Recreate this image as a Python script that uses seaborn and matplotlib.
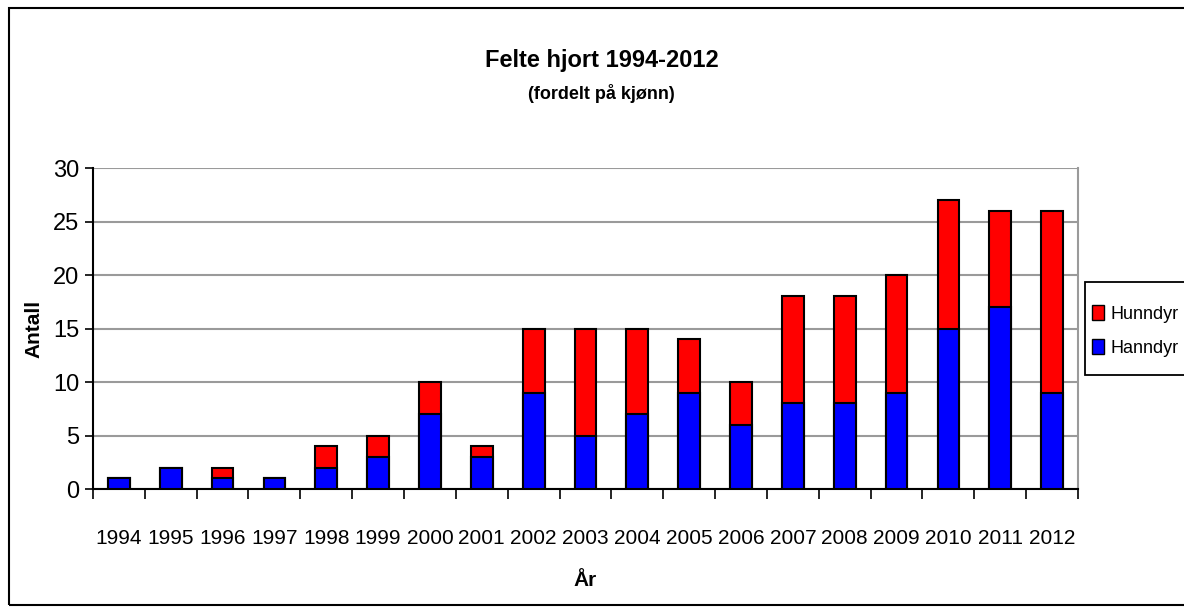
import matplotlib
matplotlib.use("Agg")
import matplotlib.pyplot as plt
import matplotlib.patches as mpatches
import seaborn as sns
import pandas as pd

years = [1994, 1995, 1996, 1997, 1998, 1999, 2000, 2001, 2002, 2003, 2004,
         2005, 2006, 2007, 2008, 2009, 2010, 2011, 2012]
hanndyr = [1, 2, 1, 1, 2, 3, 7, 3, 9, 5, 7, 9, 6, 8, 8, 9, 15, 17, 9]
hunndyr = [0, 0, 1, 0, 2, 2, 3, 1, 6, 10, 8, 5, 4, 10, 10, 11, 12, 9, 17]
y_ticks = [0, 5, 10, 15, 20, 25, 30]

sns.set_theme(style="white")
plt.rcParams['font.family'] = ['Liberation Sans', 'DejaVu Sans']
for k in ['text.color', 'axes.labelcolor', 'xtick.color', 'ytick.color']:
    plt.rcParams[k] = 'black'

df = pd.DataFrame({"year": [str(y) for y in years],
                   "Hanndyr": hanndyr,
                   "total": [a + b for a, b in zip(hanndyr, hunndyr)]})

fig = plt.figure(figsize=(11.84, 6.09), dpi=100)
ax = fig.add_axes([0.0785, 0.197, 0.8320, 0.527])

sns.barplot(data=df, x="year", y="total", color="#ff0000", edgecolor="black",
            linewidth=1.5, width=0.42, saturation=1, ax=ax, zorder=3)
sns.barplot(data=df, x="year", y="Hanndyr", color="#0000ff", edgecolor="black",
            linewidth=1.5, width=0.42, saturation=1, ax=ax, zorder=3)

ax.set_ylim(0, 30)
ax.set_xlim(-0.5, len(years) - 0.5)
ax.set_yticks(y_ticks)
ax.set_yticklabels([str(v) for v in y_ticks], fontsize=17)
ax.set_xticks(range(len(years)))
ax.set_xticklabels([str(y) for y in years], fontsize=15)
ax.tick_params(axis='x', length=0, pad=29)
ax.tick_params(axis='y', length=6, width=1.2, color='black', left=True, pad=4)
# category separator ticks
ax.set_xticks([i - 0.5 for i in range(len(years) + 1)], minor=True)
ax.tick_params(axis='x', which='minor', length=7, width=1.2, color='black', bottom=True)

ax.yaxis.grid(True, color="#9a9a9a", linewidth=1.5, zorder=0)
ax.set_axisbelow(True)
for s in ["left", "bottom"]:
    ax.spines[s].set_color("black")
    ax.spines[s].set_linewidth(1.5)
ax.spines["right"].set_color("#9a9a9a")
ax.spines["right"].set_linewidth(1.5)
ax.spines["top"].set_visible(False)

ax.set_xlabel("År", fontsize=15, fontweight="bold", labelpad=16)
ax.set_ylabel("Antall", fontsize=15, fontweight="bold", labelpad=7)

fig.text(0.508, 0.90, "Felte hjort 1994-2012", ha="center", va="center",
         fontsize=17, fontweight="bold")
fig.text(0.508, 0.847, "(fordelt på kjønn)", ha="center", va="center",
         fontsize=13, fontweight="bold")

# legend box (frame drawn separately so it can be taller than the entries)
legbox = mpatches.Rectangle((0.9164, 0.3842), 0.2, 0.1527, transform=fig.transFigure,
                            fill=True, facecolor="white", edgecolor="black",
                            linewidth=1.3, zorder=1)
fig.patches.append(legbox)

handles = [mpatches.Patch(facecolor="#ff0000", edgecolor="black", label="Hunndyr"),
           mpatches.Patch(facecolor="#0000ff", edgecolor="black", label="Hanndyr")]
leg = fig.legend(handles=handles, loc="center left", bbox_to_anchor=(0.9164, 0.4565),
                 frameon=False, fontsize=13, handlelength=0.65, handleheight=0.85,
                 handletextpad=0.35, borderpad=0.4, labelspacing=0.9,
                 borderaxespad=0)
leg.set_zorder(5)

border = mpatches.Rectangle((0.0075, 0.006), 1.5, 0.981, transform=fig.transFigure,
                            fill=False, edgecolor="black", linewidth=1.5)
fig.patches.append(border)

fig.savefig("out.png", dpi=100)
